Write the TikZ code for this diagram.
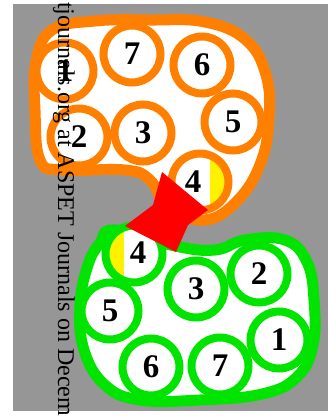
\documentclass[tikz,border=0pt]{standalone}
\usepackage{fontspec}
\setmainfont{Liberation Serif}
\usetikzlibrary{calc}
\definecolor{PanelGray}{RGB}{150,150,150}
\definecolor{DomOrange}{RGB}{255,128,0}
\definecolor{DomGreen}{RGB}{0,228,0}

\begin{document}
\begin{tikzpicture}[x=1pt,y=-1pt,
  num/.style={font=\fontsize{33}{33}\selectfont\bfseries,inner sep=0pt},
  cell/.style={circle,fill=white,line width=8pt,minimum size=57pt,inner sep=0pt,num},
  ocell/.style={cell,draw=DomOrange},
  gcell/.style={cell,draw=DomGreen},
  capright/.style={path picture={\fill[yellow] ($(path picture bounding box.center)+(10,-40)$) rectangle +(40,80);}},
  capleft/.style={path picture={\fill[yellow] ($(path picture bounding box.center)+(-10,-40)$) rectangle +(-40,80);}},
  rim/.style={line width=11pt,fill=white,line join=round}]
  \useasboundingbox (0,0) rectangle (328,416);
  \clip (0,0) rectangle (328,416);
  \fill[PanelGray] (13,4) rectangle (328,411);
  % upper (orange) domain
  \draw[rim,draw=DomOrange] plot[smooth cycle,tension=.7] coordinates
    {(36,62)(52,30)(95,21)(150,20)(205,22)(246,40)(266,75)(269,118)(261,162)
     (238,200)(205,220)(168,207)(150,180)(125,170)(62,170)(40,160)(35,110)};
  \node[ocell] (o1) at (65,71) {1};
  \node[ocell] (o7) at (132,54) {7};
  \node[ocell] (o6) at (202,65) {6};
  \node[ocell] (o2) at (79,137) {2};
  \node[ocell] (o3) at (143,133) {3};
  \node[ocell] (o5) at (233,122) {5};
  \node[ocell,capright] (o4) at (200,182) {};
  % lower (green) domain
  \draw[rim,draw=DomGreen] plot[smooth cycle,tension=.7] coordinates
    {(115,230)(175,246)(215,250)(245,240)(285,240)(307,262)(314,300)(313,345)
     (297,377)(262,394)(200,400)(140,400)(105,385)(84,350)(80,305)(88,265)(100,243)};
  \node[gcell,capleft] (g4) at (134,254) {};
  \node[gcell] (g5) at (110,311) {5};
  \node[gcell] (g6) at (151,367) {6};
  \node[gcell] (g7) at (220,366) {7};
  \node[gcell] (g1) at (279,340) {1};
  \node[gcell] (g2) at (259,274) {2};
  \node[gcell] (g3) at (196,289) {3};
  % linker between the two 4s
  \fill[red] ($(o4)+(-38,-10)$) -- ($(o4)+(8,28)$) -- ($(o4)+(-12,43)$)
    -- ($(g4)+(42,-2)$) -- ($(g4)+(-9,-28)$) -- ($(o4)+(-47,23)$) -- cycle;
  \node[num] (o4t) at ($(o4)+(-7,0)$) {4};
  \node[num] (g4t) at ($(g4)+(4,-1)$) {4};
  \node[rotate=-90,anchor=base west,inner sep=0pt,font=\fontsize{24}{24}\selectfont]
    (stamp) at (58,8.5) {\llap{t}journals.org at ASPET Journals on Decem};
\end{tikzpicture}
\end{document}
